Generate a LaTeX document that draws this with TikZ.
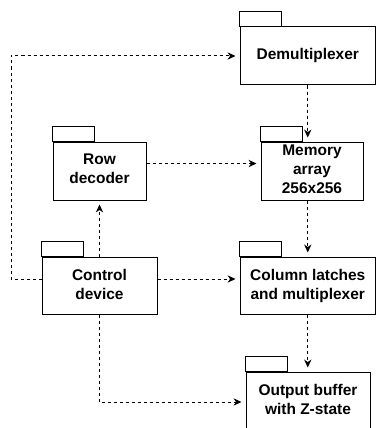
\documentclass[tikz,border=0pt]{standalone}
\usepackage{fontspec}
\setmainfont{Liberation Sans}
\usetikzlibrary{arrows.meta,positioning}

\begin{document}
\begin{tikzpicture}[
  x=0.75pt, y=-0.75pt,
  block/.style={rectangle, draw, line width=0.75pt, inner sep=0pt, align=center,
    font=\bfseries\fontsize{11.6}{14.3}\selectfont},
  tab/.style={draw, line width=0.75pt},
  link/.style={-{Stealth[length=6pt, width=5.5pt]}, line width=0.75pt,
    dash pattern=on 2.25pt off 2.25pt, shorten >=3pt}
]
\useasboundingbox (0,0) rectangle (376,428);

% Package blocks
\node[block, minimum width=135.5*0.75pt, minimum height=58*0.75pt] (demux) at (307.75,56) {Demultiplexer};
\node[block, minimum width=93*0.75pt, minimum height=58*0.75pt, text depth=3pt] (row) at (99.5,171) {Row\\decoder};
\node[block, minimum width=102*0.75pt, minimum height=58*0.75pt, text depth=3pt] (mem) at (312,171) {Memory\\array\\256x256};
\node[block, minimum width=115*0.75pt, minimum height=57*0.75pt, text depth=2pt] (ctrl) at (99.5,285.5) {Control\\device};
\node[block, minimum width=135.5*0.75pt, minimum height=57*0.75pt, text depth=2pt] (col) at (307.75,285.5) {Column latches\\and multiplexer};
\node[block, minimum width=124*0.75pt, minimum height=58*0.75pt, text depth=3pt] (out) at (308,401) {Output buffer\\with Z-state};

% Tabs on top of each block
\foreach \b in {demux,row,mem,ctrl,col,out}
  \draw[tab] (\b.north west) rectangle ++(42,-15);

% Lanes for the dashed connectors
\coordinate (lane) at (11,279);
\coordinate (rowlane) at (0,163.5);
\coordinate (outlane) at (0,402);

% Dashed connectors
\draw[link] (ctrl.west |- lane) -- (lane) |- (demux.west);
\draw[link] (ctrl.east |- lane) -- (col.west |- lane);
\draw[link] (row.east |- rowlane) -- (mem.west |- rowlane);
\draw[link] (ctrl.north) -- (row.south);
\draw[link] (ctrl.south) |- (out.west |- outlane);
\draw[link] (demux.south) -- (demux.south |- mem.north);
\draw[link] (col.north |- mem.south) -- (col.north);
\draw[link] (col.south) -- (col.south |- out.north);

\end{tikzpicture}
\end{document}
